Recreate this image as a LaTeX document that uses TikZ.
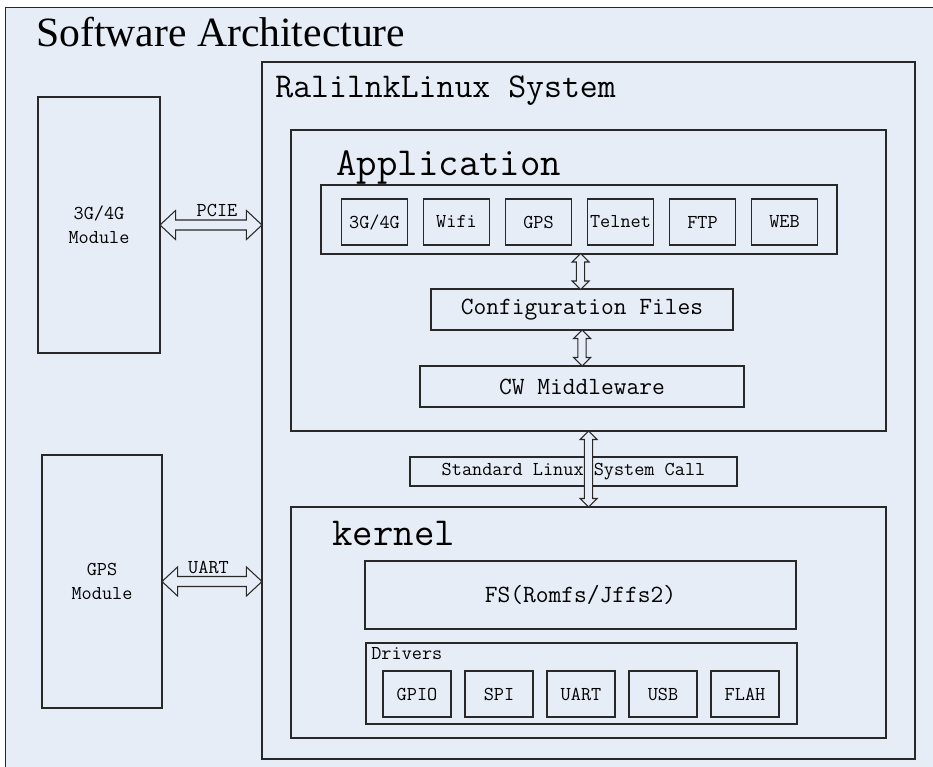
\documentclass[tikz,border=0pt]{standalone}
\usepackage{fontspec}
\setmainfont{Liberation Serif}
\usepackage{tikz}
\usetikzlibrary{shapes.arrows,calc,positioning}
\definecolor{bgblue}{RGB}{231,237,247}
\definecolor{linegray}{RGB}{40,40,40}
\newcommand{\smallfnt}{\ttfamily\fontsize{11.2}{13.4}\selectfont}
\newcommand{\midfnt}{\ttfamily\fontsize{14.1}{16.9}\selectfont}
\newcommand{\sysfnt}{\ttfamily\fontsize{19.8}{23.8}\selectfont}
\newcommand{\bigfnt}{\ttfamily\fontsize{22.6}{27.1}\selectfont}

\begin{document}
\begin{tikzpicture}[
  every node/.style={rectangle, inner sep=0pt},
  box/.style={draw=linegray, fill=bgblue, line width=0.6pt, font=\smallfnt, align=center},
  appbox/.style={box, minimum width=1.32cm, minimum height=0.92cm},
  drvbox/.style={box, minimum width=1.36cm, minimum height=0.92cm},
  lbl/.style={font=\smallfnt},
  fatarrow/.style={double arrow, draw=linegray, fill=bgblue, line width=0.6pt,
    inner xsep=0pt, inner ysep=2.55pt, double arrow head extend=5.4pt, double arrow tip angle=86},
  thinarrow/.style={double arrow, draw=linegray, fill=bgblue, line width=0.6pt, rotate=90,
    inner xsep=0pt, inner ysep=2pt, double arrow head extend=2.55pt, double arrow tip angle=90}
]
\useasboundingbox (0,0) rectangle (18.66,-15.34);
\clip (0,0) rectangle (18.66,-15.34);
% Outer frame and heading
\node[box, minimum width=19cm, minimum height=16cm, anchor=north west] (frame) at (0.1,-0.14) {};
\node[anchor=base west, font=\fontsize{23.7}{28}\selectfont] (heading) at (0.72,-0.94) {Software Architecture};
% Modules on the left
\node[box, minimum width=2.44cm, minimum height=5.12cm] (modem) at (1.98,-4.50) {3G/4G\\Module};
\node[box, minimum width=2.40cm, minimum height=5.06cm] (gpsmod) at (2.04,-11.63) {GPS\\Module};
% Linux system
\node[box, minimum width=13.06cm, minimum height=13.94cm] (linux) at (11.77,-8.21) {};
\node[anchor=base west, font=\sysfnt] (linux_title) at (5.50,-1.96) {RalilnkLinux System};
% Application layer
\node[box, minimum width=11.90cm, minimum height=6.02cm] (app) at (11.77,-5.61) {};
\node[anchor=base west, font=\bigfnt] (app_title) at (6.72,-3.52) {Application};
\node[box, minimum width=10.32cm, minimum height=1.38cm] (apps) at (11.58,-4.39) {};
\node[appbox] (app_g4) at (7.49,-4.44) {3G/4G};
\node[appbox] (app_wifi) at (9.13,-4.44) {Wifi};
\node[appbox] (app_gps) at (10.77,-4.44) {GPS};
\node[appbox] (app_telnet) at (12.41,-4.44) {Telnet};
\node[appbox] (app_ftp) at (14.05,-4.44) {FTP};
\node[appbox] (app_web) at (15.69,-4.44) {WEB};
% Config files and middleware
\node[box, font=\midfnt, minimum width=6.04cm, minimum height=0.82cm] (config) at (11.64,-6.19) {Configuration Files};
\node[box, font=\midfnt, minimum width=6.48cm, minimum height=0.82cm] (middleware) at (11.64,-7.73) {CW Middleware};
% System call
\node[box, minimum width=6.54cm, minimum height=0.58cm] (syscall) at (11.47,-9.43) {Standard Linux System Call};
% Kernel layer
\node[box, minimum width=11.90cm, minimum height=4.62cm] (kernel) at (11.77,-12.45) {};
\node[anchor=base west, font=\bigfnt] (kernel_title) at (6.64,-10.90) {kernel};
\node[box, font=\midfnt, minimum width=8.62cm, minimum height=1.36cm] (fs) at (11.61,-11.90) {FS(Romfs/Jffs2)};
\node[box, minimum width=8.62cm, minimum height=1.62cm] (drivers) at (11.63,-13.67) {};
\node[lbl, anchor=base west] (drivers_title) at (7.42,-13.18) {Drivers};
\node[drvbox] (drv_gpio) at (8.34,-13.88) {GPIO};
\node[drvbox] (drv_spi) at (9.98,-13.88) {SPI};
\node[drvbox] (drv_uart) at (11.62,-13.88) {UART};
\node[drvbox] (drv_usb) at (13.26,-13.88) {USB};
\node[drvbox] (drv_flash) at (14.90,-13.88) {FLAH};
% Draw the arrows
\node[fatarrow, minimum height=2.04cm] (pcie) at ($(modem.east)!0.5!(linux.west |- modem.east)$) {};
\node[lbl] (pcie_lbl) at ([shift={(0.12,0.30)}]pcie.center) {PCIE};
\node[fatarrow, minimum height=2.00cm] (uart) at ($(gpsmod.east)!0.5!(linux.west |- gpsmod.east)$) {};
\node[lbl] (uart_lbl) at ([shift={(-0.07,0.29)}]uart.center) {UART};
\node[thinarrow, minimum height=0.72cm] (apps_cfg) at ($(apps.south)!0.5!(config.north)$) {};
\node[thinarrow, minimum height=0.72cm] (cfg_mw) at ($(config.south)!0.5!(middleware.north)$) {};
\node[thinarrow, minimum height=1.52cm] (app_kernel) at ($(app.south)!0.5!(kernel.north)$) {};
\end{tikzpicture}
\end{document}
